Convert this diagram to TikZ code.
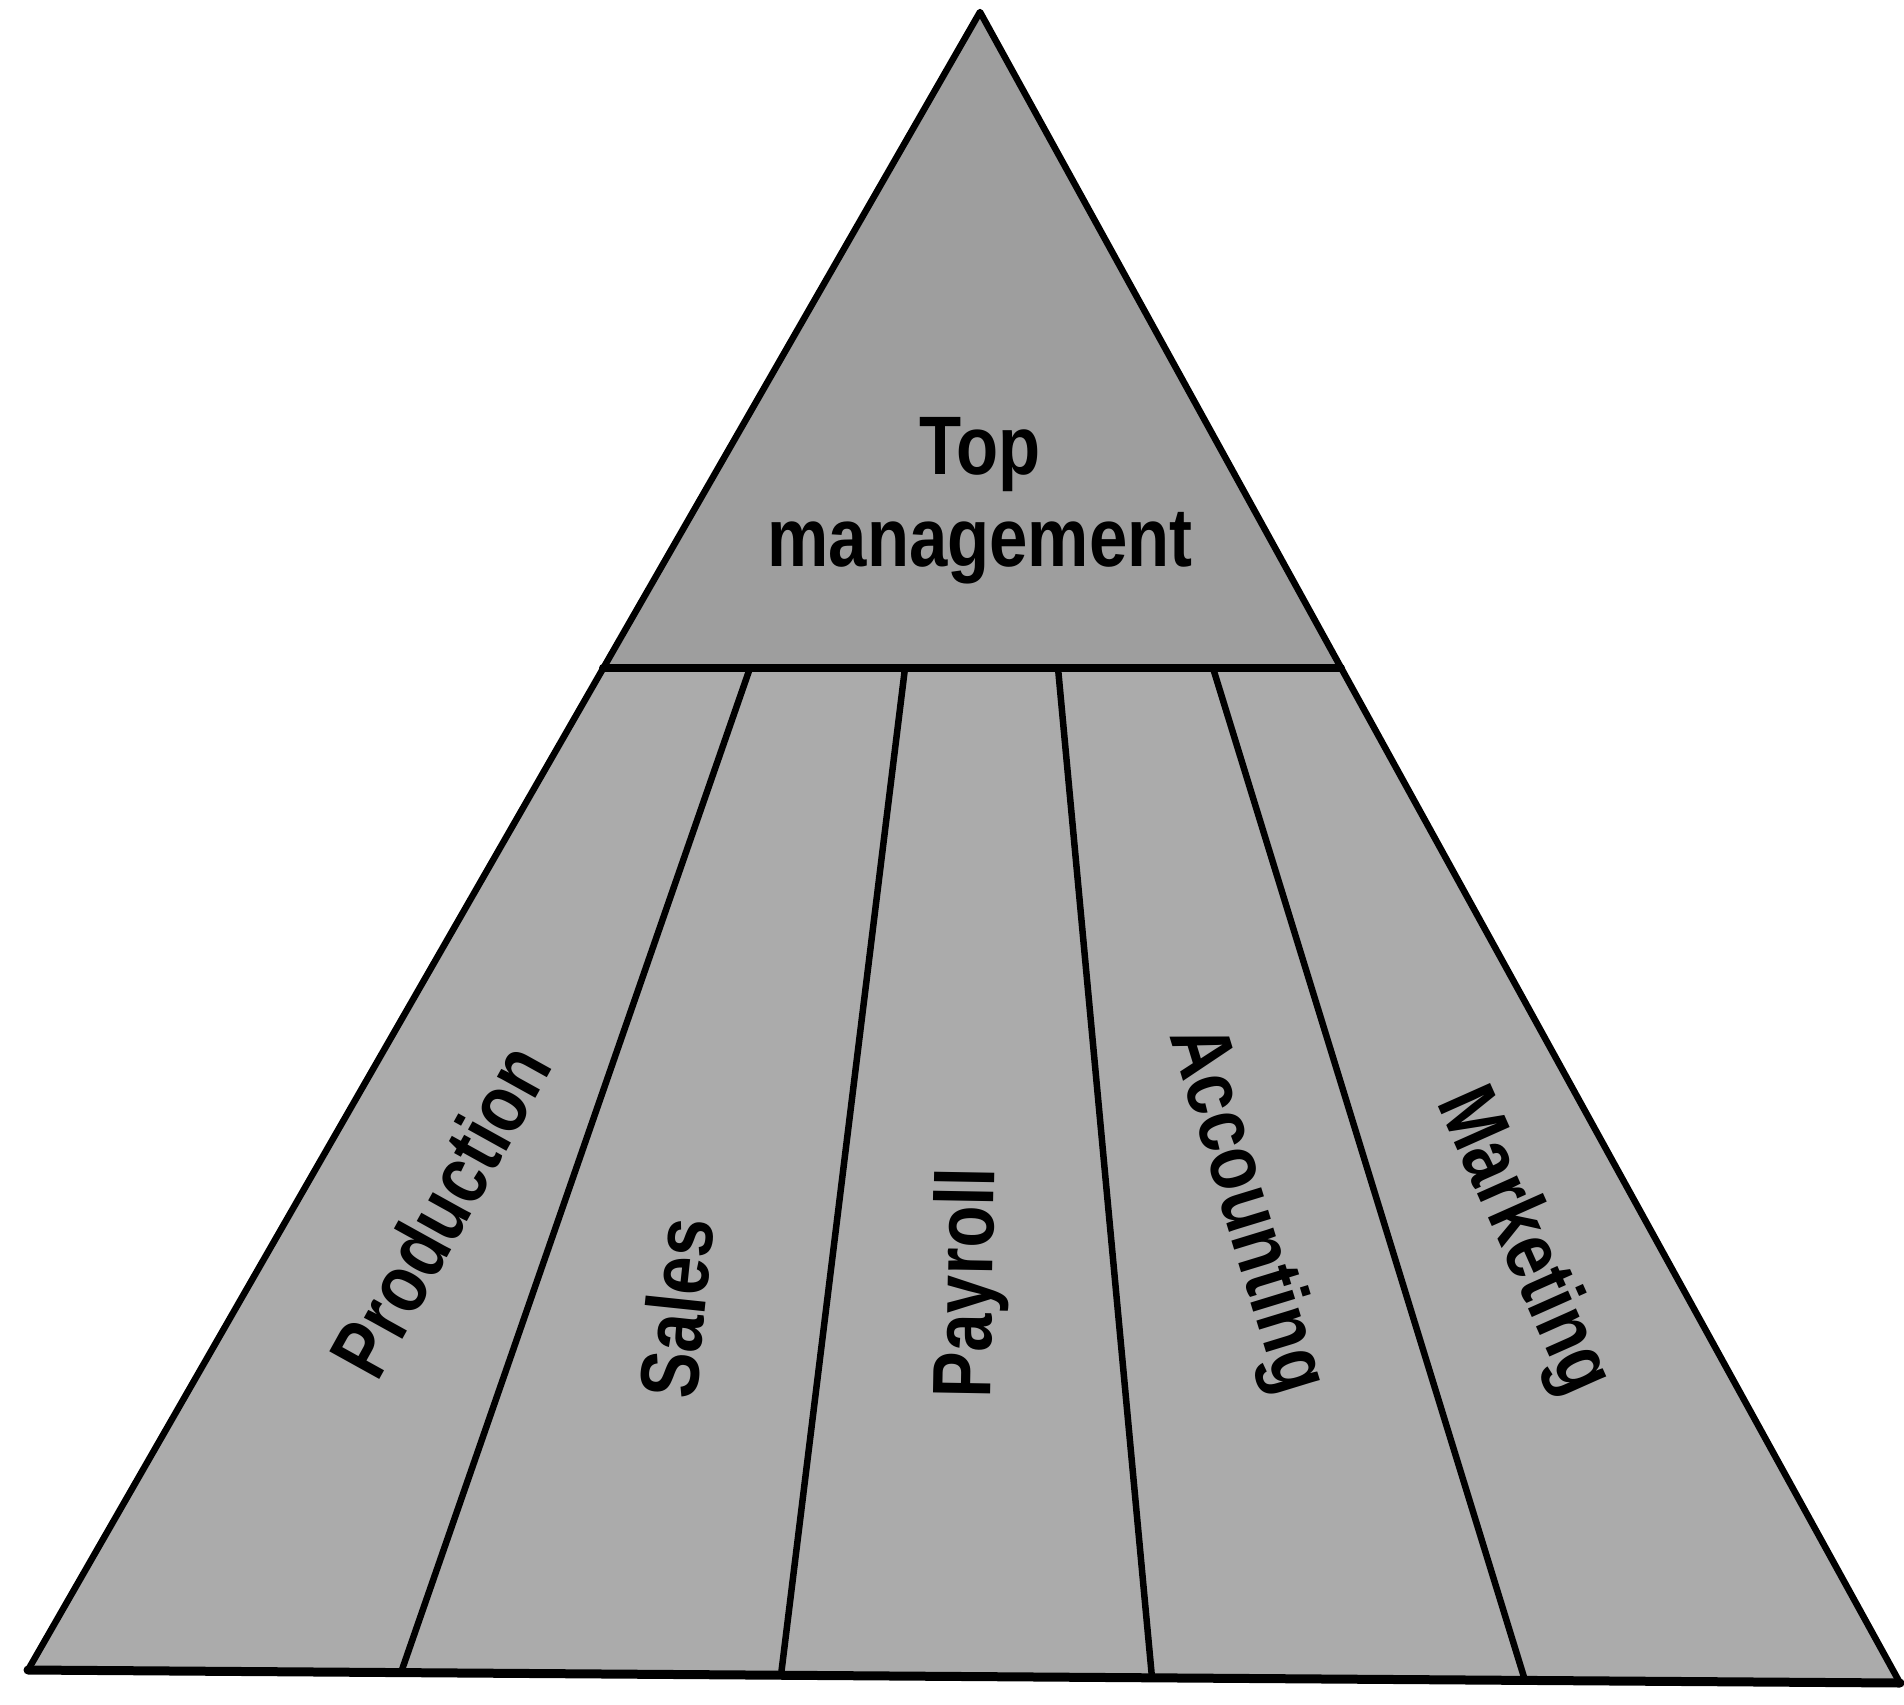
\documentclass[tikz,border=0pt]{standalone}
\usepackage{fontspec}
\setmainfont{Liberation Sans}
\usepackage{graphicx}
\newcommand{\narrowtxt}[1]{\scalebox{0.83}[1]{#1}}
\begin{document}
\begin{tikzpicture}[x=1pt,y=-1pt,
  edge/.style={line width=6.5pt, line join=round, line cap=round},
  toparea/.style={fill=black!38},
  strip/.style={fill=black!33},
  lbl/.style={font=\bfseries\fontsize{83}{89}\selectfont, inner sep=0pt, text=black}]
\useasboundingbox (0,0) rectangle (1904,1705);
% corners
\coordinate (apex) at (980,12);
\coordinate (bl) at (28,1670);
\coordinate (br) at (1900,1683);
\coordinate (ml) at (603,668);
\coordinate (mr) at (1341,668);
% divider ends
\coordinate (t1) at (750,668);
\coordinate (t2) at (905,668);
\coordinate (t3) at (1058,668);
\coordinate (t4) at (1213,668);
\coordinate (b1) at (401,1672.6);
\coordinate (b2) at (781,1675.2);
\coordinate (b3) at (1152,1677.8);
\coordinate (b4) at (1525,1680.4);
% fills
\fill[toparea] (apex) -- (ml) -- (mr) -- cycle;
\fill[strip] (ml) -- (mr) -- (br) -- (bl) -- cycle;
% lines
\draw[edge] (bl) -- (apex) -- (br);
\draw[edge, line width=9pt] (bl) -- (br);
\draw[edge, line width=8pt] (ml) -- (mr);
\draw[edge] (t1) -- (b1);
\draw[edge] (t2) -- (b2);
\draw[edge] (t3) -- (b3);
\draw[edge] (t4) -- (b4);
% labels
\node[lbl, align=center] (top) at (980,501) {\narrowtxt{Top}\\[3pt]\narrowtxt{management}};
\node[lbl, rotate=61] (prod) at (440,1210) {\narrowtxt{Production}};
\node[lbl, rotate=84] (sales) at (676,1308) {\narrowtxt{Sales}};
\node[lbl, rotate=89] (pay) at (971,1283) {\narrowtxt{Payroll}};
\node[lbl, rotate=-73] (acc) at (1245,1210) {\narrowtxt{Accounting}};
\node[lbl, rotate=-66] (mkt) at (1522,1242) {\narrowtxt{Marketing}};
\end{tikzpicture}
\end{document}
